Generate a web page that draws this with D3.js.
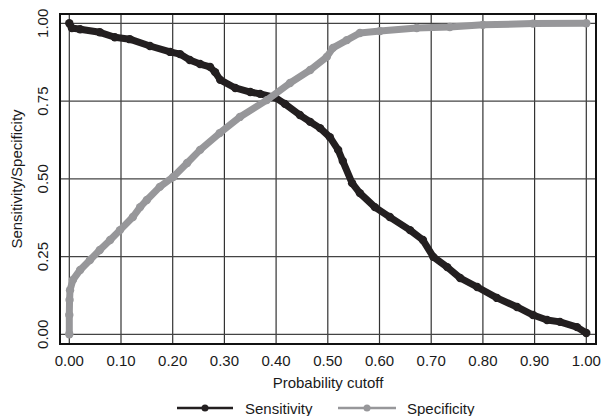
<!DOCTYPE html>
<html>
<head>
<meta charset="utf-8">
<script src="https://cdn.jsdelivr.net/npm/d3@7"></script>
<style>
  body { margin: 0; background: #fff; }
  text { font-family: "Liberation Sans", Arial, Helvetica, sans-serif; }
</style>
</head>
<body>
<div id="chart"></div>
<script>
// Data
//-----------
var sensCutoff = [0, 0.005, 0.021, 0.059, 0.088, 0.117, 0.156, 0.195, 0.214, 0.233, 0.253, 0.272, 0.282, 0.292,
  0.321, 0.350, 0.369, 0.398, 0.417, 0.446, 0.466, 0.485, 0.504, 0.520, 0.529, 0.547, 0.562, 0.591, 0.620,
  0.659, 0.684, 0.704, 0.731, 0.756, 0.789, 0.827, 0.866, 0.897, 0.924, 0.949, 0.982, 1.0];
var sensitivity = [1.0, 0.985, 0.981, 0.971, 0.955, 0.949, 0.927, 0.908, 0.901, 0.882, 0.869, 0.860, 0.843, 0.818,
  0.792, 0.779, 0.773, 0.762, 0.741, 0.705, 0.683, 0.663, 0.634, 0.593, 0.557, 0.486, 0.454, 0.409, 0.377,
  0.335, 0.303, 0.249, 0.216, 0.181, 0.152, 0.117, 0.088, 0.062, 0.046, 0.040, 0.023, 0.004];

var specCutoff = [0, 0, 0.0005, 0.0014, 0.007, 0.021, 0.040, 0.059, 0.079, 0.098, 0.123, 0.137, 0.150, 0.175,
  0.201, 0.228, 0.253, 0.291, 0.330, 0.382, 0.427, 0.466, 0.498, 0.510, 0.537, 0.562, 0.601, 0.672, 0.736,
  0.800, 0.897, 1.0];
var specificity = [0, 0.062, 0.11, 0.142, 0.175, 0.207, 0.239, 0.271, 0.303, 0.335, 0.377, 0.409, 0.432, 0.474,
  0.506, 0.551, 0.593, 0.647, 0.699, 0.753, 0.808, 0.850, 0.892, 0.921, 0.946, 0.969, 0.975, 0.985, 0.988,
  0.995, 0.999, 1.0];

var xTicks = [0, 0.1, 0.2, 0.3, 0.4, 0.5, 0.6, 0.7, 0.8, 0.9, 1.0];
var yTicks = [0, 0.25, 0.5, 0.75, 1.0];

// Visualization attributes
//-----------
var w = 601, h = 416;
var box = {left: 60, right: 596, top: 14, bottom: 344};
var black = "#231f20", grey = "#97979a";

var svg = d3.select("#chart").append("svg")
  .attr("width", w)
  .attr("height", h);

// Scales
//-----------
var x = d3.scaleLinear([0, 1], [69.3, 586.3]);
var y = d3.scaleLinear([0, 1], [334.3, 23.3]);

// Grid
//-----------
svg.selectAll(".vgrid")
  .data(xTicks)
  .enter()
  .append("line")
  .attr("x1", function(d) { return x(d); })
  .attr("x2", function(d) { return x(d); })
  .attr("y1", box.top)
  .attr("y2", box.bottom)
  .attr("stroke", "#333")
  .attr("stroke-width", 1.2);

svg.selectAll(".hgrid")
  .data(yTicks)
  .enter()
  .append("line")
  .attr("x1", box.left)
  .attr("x2", box.right)
  .attr("y1", function(d) { return y(d); })
  .attr("y2", function(d) { return y(d); })
  .attr("stroke", "#444")
  .attr("stroke-width", 1.2);

svg.append("rect")
  .attr("x", box.left)
  .attr("y", box.top)
  .attr("width", box.right - box.left)
  .attr("height", box.bottom - box.top)
  .attr("fill", "none")
  .attr("stroke", "#111")
  .attr("stroke-width", 2);

// Tick labels
//-----------
svg.selectAll(".xlab")
  .data(xTicks)
  .enter()
  .append("text")
  .text(function(d) { return d.toFixed(2); })
  .attr("x", function(d) { return x(d); })
  .attr("y", 365.5)
  .attr("text-anchor", "middle")
  .attr("font-size", "15px")
  .attr("fill", "#1a1a1a");

svg.selectAll(".ylab")
  .data(yTicks)
  .enter()
  .append("text")
  .text(function(d) { return d.toFixed(2); })
  .attr("transform", function(d) { return "translate(48," + y(d) + ") rotate(-90)"; })
  .attr("text-anchor", "middle")
  .attr("font-size", "15px")
  .attr("fill", "#1a1a1a");

svg.append("text")
  .text("Probability cutoff")
  .attr("x", (box.left + box.right) / 2)
  .attr("y", 388)
  .attr("text-anchor", "middle")
  .attr("font-size", "15px")
  .attr("fill", "#1a1a1a");

svg.append("text")
  .text("Sensitivity/Specificity")
  .attr("transform", "translate(22," + (box.top + box.bottom) / 2 + ") rotate(-90)")
  .attr("text-anchor", "middle")
  .attr("font-size", "15px")
  .attr("fill", "#1a1a1a");

// Curves
//-----------
function drawSeries(xs, ys, color) {
  var pts = xs.map(function(d, i) { return [d, ys[i]]; });
  var line = d3.line()
    .x(function(d) { return x(d[0]); })
    .y(function(d) { return y(d[1]); });
  svg.append("path")
    .datum(pts)
    .attr("d", line)
    .attr("fill", "none")
    .attr("stroke", color)
    .attr("stroke-width", 7)
    .attr("stroke-linejoin", "round")
    .attr("stroke-linecap", "round");
  svg.append("g").selectAll("circle")
    .data(pts)
    .enter()
    .append("circle")
    .attr("cx", function(d) { return x(d[0]); })
    .attr("cy", function(d) { return y(d[1]); })
    .attr("r", 4.2)
    .attr("fill", color);
}
drawSeries(sensCutoff, sensitivity, black);
drawSeries(specCutoff, specificity, grey);

// Legend
//-----------
var legend = [
  {name: "Sensitivity", color: black, x1: 177, x2: 233, tx: 245},
  {name: "Specificity", color: grey, x1: 338, x2: 396, tx: 407}
];
var lg = svg.selectAll(".legend")
  .data(legend)
  .enter()
  .append("g");
lg.append("line")
  .attr("x1", function(d) { return d.x1; })
  .attr("x2", function(d) { return d.x2; })
  .attr("y1", 408)
  .attr("y2", 408)
  .attr("stroke", function(d) { return d.color; })
  .attr("stroke-width", 2.7);
lg.append("circle")
  .attr("cx", function(d) { return (d.x1 + d.x2) / 2; })
  .attr("cy", 408)
  .attr("r", 3.5)
  .attr("fill", function(d) { return d.color; });
lg.append("text")
  .text(function(d) { return d.name; })
  .attr("x", function(d) { return d.tx; })
  .attr("y", 414)
  .attr("font-size", "15px")
  .attr("fill", "#1a1a1a");
</script>
</body>
</html>
